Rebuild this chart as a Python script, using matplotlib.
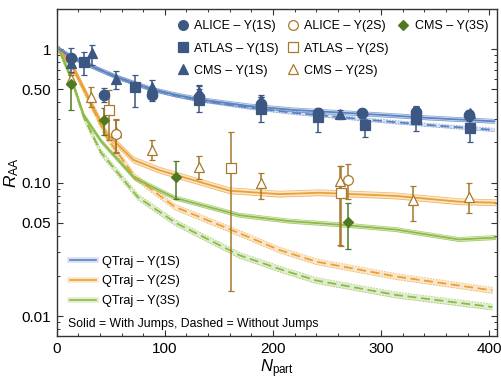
import matplotlib
matplotlib.use('Agg')
import matplotlib.pyplot as plt
from matplotlib.lines import Line2D
from matplotlib.ticker import FixedLocator, NullFormatter
import numpy as np

plt.rcParams['font.family'] = ['Liberation Sans', 'DejaVu Sans']
plt.rcParams['mathtext.fontset'] = 'custom'
plt.rcParams['mathtext.rm'] = 'Liberation Sans'
plt.rcParams['mathtext.it'] = 'Liberation Sans:italic'

# ---- measured points (Npart, RAA, lower, upper) ----
alice1_n = [13, 44, 88, 132, 189, 242, 282, 332, 381]
alice1_r = [0.86, 0.45, 0.45, 0.44, 0.39, 0.33, 0.335, 0.34, 0.32]
alice1_lo = [0.72, 0.40, 0.41, 0.39, 0.34, 0.30, 0.31, 0.31, 0.29]
alice1_hi = [1.02, 0.51, 0.50, 0.50, 0.44, 0.36, 0.355, 0.37, 0.35]

atlas1_n = [25, 72, 132, 189, 242, 285, 332, 382]
atlas1_r = [0.80, 0.52, 0.415, 0.355, 0.31, 0.27, 0.30, 0.255]
atlas1_lo = [0.64, 0.37, 0.34, 0.285, 0.24, 0.22, 0.245, 0.20]
atlas1_hi = [0.96, 0.64, 0.53, 0.44, 0.355, 0.32, 0.378, 0.31]

cms1_n = [13, 33, 55, 88, 132, 189, 262, 332, 382]
cms1_r = [0.785, 0.93, 0.60, 0.52, 0.48, 0.415, 0.325, 0.335, 0.33]
cms1_lo = [0.67, 0.76, 0.50, 0.45, 0.43, 0.38, 0.30, 0.30, 0.30]
cms1_hi = [0.90, 1.08, 0.69, 0.59, 0.54, 0.457, 0.35, 0.37, 0.346]

alice2_n = [55, 269]
alice2_r = [0.23, 0.105]
alice2_lo = [0.17, 0.075]
alice2_hi = [0.30, 0.138]

atlas2_n = [48, 161, 263]
atlas2_r = [0.35, 0.128, 0.083]
atlas2_lo = [0.21, 0.0154, 0.0334]
atlas2_hi = [0.495, 0.24, 0.133]

cms2_n = [13, 32, 55, 88, 132, 189, 262, 330, 381]
cms2_r = [0.60, 0.44, 0.24, 0.176, 0.132, 0.099, 0.102, 0.0742, 0.0785]
cms2_lo = [0.54, 0.367, 0.167, 0.148, 0.107, 0.075, 0.034, 0.052, 0.059]
cms2_hi = [0.66, 0.519, 0.295, 0.209, 0.157, 0.119, 0.133, 0.094, 0.099]

cms3_n = [13, 44, 110, 269]
cms3_r = [0.548, 0.295, 0.11, 0.051]
cms3_lo = [0.35, 0.227, 0.075, 0.0316]
cms3_hi = [0.64, 0.36, 0.146, 0.0706]

# ---- QTraj curves ----
q1s_n = [2, 13, 25, 55, 88, 110, 132, 178, 220, 300, 345, 405]
q1s_r = [1.0, 0.88, 0.79, 0.62, 0.50, 0.455, 0.42, 0.375, 0.35, 0.322, 0.305, 0.288]
q1d_n = [2, 13, 25, 55, 88, 110, 132, 178, 220, 300, 345, 405]
q1d_r = [1.0, 0.88, 0.79, 0.62, 0.50, 0.45, 0.415, 0.365, 0.333, 0.29, 0.27, 0.248]

q2s_n = [2, 14, 46, 71, 95, 160, 206, 243, 314, 372, 406]
q2s_r = [1.0, 0.76, 0.234, 0.148, 0.124, 0.087, 0.082, 0.084, 0.0795, 0.072, 0.0707]
q2d_n = [2, 14, 46, 72, 109, 169, 206, 240, 314, 403]
q2d_r = [1.0, 0.76, 0.22, 0.111, 0.066, 0.0418, 0.0313, 0.0256, 0.0198, 0.0156]

q3s_n = [2, 13, 25, 41, 72, 109, 169, 215, 268, 314, 372, 406]
q3s_r = [1.0, 0.62, 0.32, 0.205, 0.108, 0.077, 0.057, 0.0515, 0.048, 0.0445, 0.0375, 0.0388]
q3d_n = [2, 13, 25, 41, 75, 110, 169, 210, 240, 314, 403]
q3d_r = [1.0, 0.62, 0.31, 0.168, 0.078, 0.050, 0.0286, 0.022, 0.0185, 0.0144, 0.0117]

c1_pt, c2_pt, c3_pt = '#3b5782', '#a8782c', '#4f7a22'
c1_ln, c2_ln, c3_ln = '#5a83c2', '#eba035', '#8bbb45'

fig = plt.figure(figsize=(5.01, 3.79), dpi=100)
ax = fig.add_axes([0.1132, 0.1135, 0.8782, 0.8628])


def band(n, r, col, dashed, w=0.022):
    n = np.array(n, float)
    r = np.array(r, float)
    lo, hi = r * 10**(-w), r * 10**w
    ax.fill_between(n, lo, hi, color=col, alpha=0.25, lw=0, zorder=2)
    ls = (0, (2, 1.5)) if dashed else '-'
    ax.plot(n, lo, color=col, lw=0.6, alpha=0.7, ls=ls, zorder=2)
    ax.plot(n, hi, color=col, lw=0.6, alpha=0.7, ls=ls, zorder=2)
    ax.plot(n, r, color=col, lw=1.3, ls=(0, (5, 2.5)) if dashed else '-', zorder=3)


band(q3d_n, q3d_r, c3_ln, True)
band(q2d_n, q2d_r, c2_ln, True)
band(q1d_n, q1d_r, c1_ln, True, 0.012)
band(q3s_n, q3s_r, c3_ln, False, 0.015)
band(q2s_n, q2s_r, c2_ln, False)
band(q1s_n, q1s_r, c1_ln, False, 0.015)


def pts(n, r, lo, hi, col, mk, filled, size=7):
    r = np.array(r)
    yerr = [r - np.array(lo), np.array(hi) - r]
    ax.errorbar(n, r, yerr=yerr, fmt=mk, color=col, ms=size,
                mfc=col if filled else 'white', mec=col, mew=0.9,
                elinewidth=1.1, capsize=2.5, capthick=1.1, zorder=5)


pts(atlas2_n, atlas2_r, atlas2_lo, atlas2_hi, c2_pt, 's', False, 6.5)
pts(cms2_n, cms2_r, cms2_lo, cms2_hi, c2_pt, '^', False, 7)
pts(alice2_n, alice2_r, alice2_lo, alice2_hi, c2_pt, 'o', False, 7)
pts(cms3_n, cms3_r, cms3_lo, cms3_hi, c3_pt, 'D', True, 5.5)
pts(atlas1_n, atlas1_r, atlas1_lo, atlas1_hi, c1_pt, 's', True, 6.5)
pts(cms1_n, cms1_r, cms1_lo, cms1_hi, c1_pt, '^', True, 7)
pts(alice1_n, alice1_r, alice1_lo, alice1_hi, c1_pt, 'o', True, 7.5)

ax.set_yscale('log')
ax.set_xlim(0, 407)
ax.set_ylim(0.0071, 2.0)

ax.set_xticks([0, 100, 200, 300, 400])
ax.xaxis.set_minor_locator(FixedLocator(np.arange(0, 407, 20)))
ax.yaxis.set_major_locator(FixedLocator([0.01, 0.05, 0.1, 0.5, 1]))
ax.set_yticklabels(['0.01', '0.05', '0.10', '0.50', '1'])
minor = [m * 10.0**e for e in (-3, -2, -1, 0) for m in range(1, 10)]
ax.yaxis.set_minor_locator(FixedLocator(minor))
ax.yaxis.set_minor_formatter(NullFormatter())
ax.tick_params(which='both', direction='in', top=True, right=True,
               colors='#333333', labelcolor='black', labelsize=11)
ax.tick_params(which='major', length=4.5, width=0.8, pad=4)
ax.tick_params(which='minor', length=2.5, width=0.7)
for s in ax.spines.values():
    s.set_color('#333333')
    s.set_linewidth(1.0)

ax.set_xlabel('$N_{\\mathrm{part}}$', fontsize=12)
ax.set_ylabel('$R_{\\mathrm{AA}}$', fontsize=12.5)
ax.xaxis.set_label_coords(0.5, -0.064)
ax.yaxis.set_label_coords(-0.082, 0.5)

# data legend
def mk(m, col, filled, size=7):
    return Line2D([], [], ls='none', marker=m, color=col, ms=size,
                  mfc=col if filled else 'white', mec=col, mew=0.9)

h1 = [mk('o', c1_pt, True), mk('s', c1_pt, True, 6.5), mk('^', c1_pt, True),
      mk('o', c2_pt, False), mk('s', c2_pt, False, 6.5), mk('^', c2_pt, False),
      mk('D', c3_pt, True, 5), Line2D([], [], ls='none')]
l1 = ['ALICE – Υ(1S)', 'ATLAS – Υ(1S)', 'CMS – Υ(1S)',
      'ALICE – Υ(2S)', 'ATLAS – Υ(2S)', 'CMS – Υ(2S)', 'CMS – Υ(3S)', '']
leg1 = ax.legend(h1, l1, ncol=3, loc='upper right', bbox_to_anchor=(1.0, 0.992),
                 frameon=False, fontsize=9.0, handlelength=0.8, handletextpad=0.5,
                 columnspacing=0.75, labelspacing=0.82, borderaxespad=0.3)
ax.add_artist(leg1)

h2 = [(Line2D([], [], color=c, lw=4, alpha=0.25), Line2D([], [], color=c, lw=1.2))
      for c in (c1_ln, c2_ln, c3_ln)]
l2 = ['QTraj – Υ(1S)', 'QTraj – Υ(2S)', 'QTraj – Υ(3S)']
ax.legend(h2, l2, loc='lower left', bbox_to_anchor=(0.005, 0.053), frameon=False,
          fontsize=9.2, handlelength=2.0, handletextpad=0.45, labelspacing=0.6)

ax.text(0.025, 0.017, 'Solid = With Jumps, Dashed = Without Jumps',
        transform=ax.transAxes, fontsize=8.8, ha='left', va='bottom')

fig.savefig('out.png', dpi=100)
